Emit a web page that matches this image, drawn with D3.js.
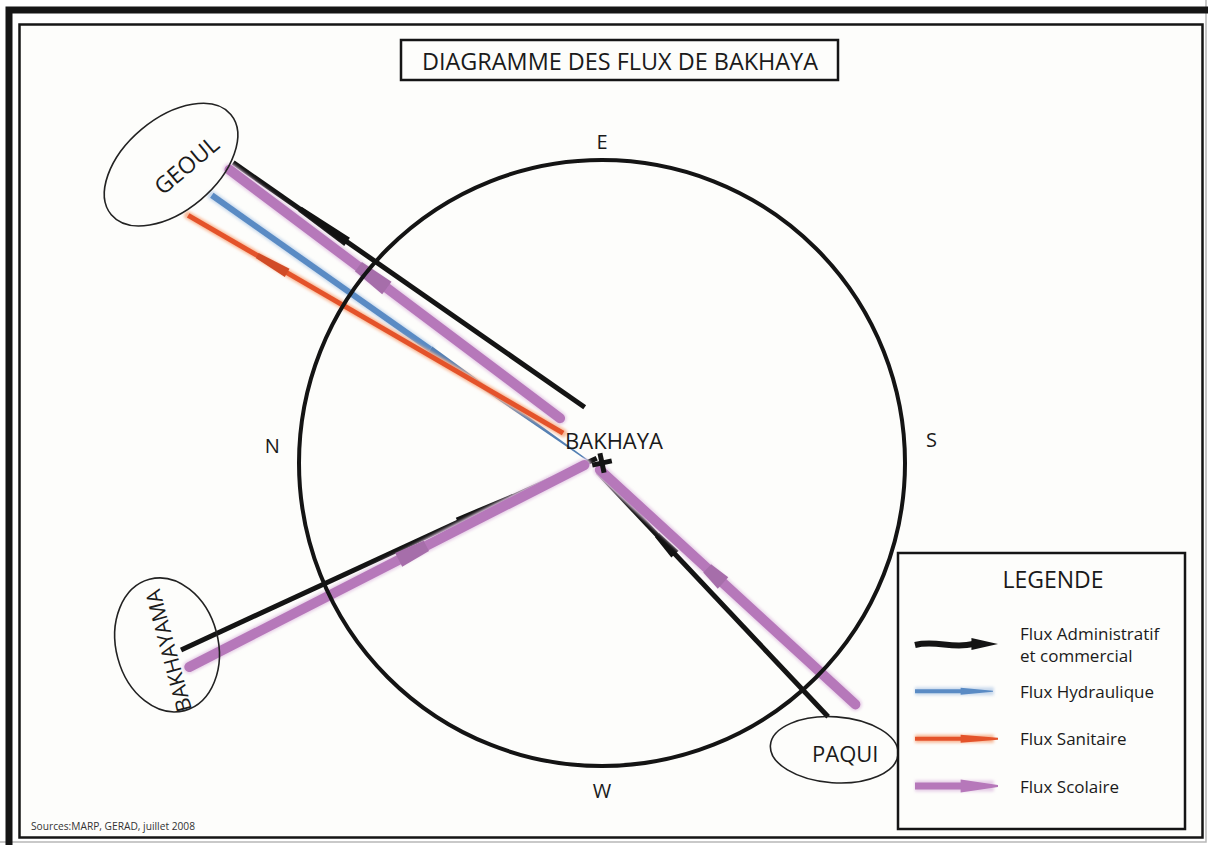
<!DOCTYPE html>
<html>
<head>
<meta charset="utf-8">
<script src="https://cdn.jsdelivr.net/npm/d3@7"></script>
<style>
  body { margin: 0; background: #fff; }
  svg { display: block; font-family: "Open Sans", "Noto Sans", sans-serif; }
</style>
</head>
<body>
<script>
// places around Bakhaya: bearing in degrees clockwise from E (top of the compass), distance in circle radii
const placeNames = ["GEOUL", "BAKHAYAMA", "PAQUI"];
const placeBearing = [-55.3, -112.7, 141];
const placeDistance = [1.73, 1.556, 1.218];

// compass letters round the circle
const compassNames = ["E", "S", "W", "N"];
const compassBearing = [0, 86, 180, 273];
const compassDistance = [1.06, 1.09, 1.08, 1.09];

// flow types and legend labels
const flowTypes = ["admin", "hydraulique", "sanitaire", "scolaire"];
const flowLabels = [["Flux Administratif", "et commercial"], ["Flux Hydraulique"], ["Flux Sanitaire"], ["Flux Scolaire"]];

// the flows drawn on the diagram
const flowPlace = ["GEOUL", "GEOUL", "GEOUL", "GEOUL", "BAKHAYAMA", "BAKHAYAMA", "PAQUI", "PAQUI"];
const flowType = ["admin", "scolaire", "hydraulique", "sanitaire", "admin", "scolaire", "admin", "scolaire"];
const flowDirection = ["out", "out", "in", "out", "in", "in", "in", "in"];

const titleText = "DIAGRAMME DES FLUX DE BAKHAYA";
const centerName = "BAKHAYA";
const legendTitle = "LEGENDE";
const sourceText = "Sources:MARP, GERAD, juillet 2008";

///////////////////////////

const svgWidth = 1208;
const svgHeight = 845;
const cx = 602, cy = 463, R = 303;

// layout of each flow: s = [along, across] from the place, e = [along, across] from the centre,
// a = arrow span as fractions of the line
const flowLanes = [
    {s: [50, -37], e: [-46, -36], a: [0.19, 0.324]},
    {s: [51, -29], e: [-60, -13], a: [0.39, 0.476]},
    {s: [51, 2], e: [-10, 6], a: [0.577, 1.0]},
    {s: [43, 32], e: [-49, -2.5], a: [0.184, 0.264]},
    {s: [11, 10], e: [-3, -6.5], a: [0.666, 0.80]},
    {s: [12, 29], e: [-17, -5], a: [0.53, 0.60]},
    {s: [29.5, 16], e: [-4.5, -9], a: [0.665, 0.743]},
    {s: [22, 45], e: [-4, -6], a: [0.518, 0.58]}
];

const placeShape = {
    GEOUL: {rx: 78, ry: 46, rot: -40, trot: -40, dx: 15, dy: 0, size: 23},
    BAKHAYAMA: {rx: 68, ry: 51, rot: -105, trot: -105, dx: 1, dy: 6, size: 21},
    PAQUI: {rx: 64, ry: 33, rot: 4, trot: 0, dx: 11, dy: 3, size: 22}
};

const typeStyle = {
    admin: {color: "#141414", width: 5, glow: null, head: 2.0},
    hydraulique: {color: "#5a8bc4", width: 6, glow: "#c9d9ec", head: 1.5},
    sanitaire: {color: "#e4532c", width: 5, glow: "#f8b795", head: 1.9},
    scolaire: {color: "#b678ba", width: 10, glow: "#e6cde7", head: 1.55}
};

const rScale = d3.scaleLinear().domain([0, 1]).range([0, R]);
const angle = d3.scaleLinear().domain([0, 360]).range([0, 2 * Math.PI]);
const polar = (b, d) => [cx + rScale(d) * Math.sin(angle(b)), cy - rScale(d) * Math.cos(angle(b))];

const svg = d3.select("body").append("svg")
    .attr("width", svgWidth)
    .attr("height", svgHeight);

const defs = svg.append("defs");
const addBlur = (id, sd) => defs.append("filter").attr("id", id)
    .attr("filterUnits", "userSpaceOnUse")
    .attr("x", 0).attr("y", 0).attr("width", svgWidth).attr("height", svgHeight)
    .append("feGaussianBlur").attr("stdDeviation", sd);
addBlur("soft", 1.8);
addBlur("edge", 0.5);

// frame
svg.append("rect").attr("width", svgWidth).attr("height", svgHeight).attr("fill", "#ffffff");
svg.append("path")
    .attr("d", `M1206,0V842H0`)
    .attr("fill", "none").attr("stroke", "#b8b8b8").attr("stroke-width", 1.5);
svg.append("path")
    .attr("d", `M9,${svgHeight}V10H${svgWidth}`)
    .attr("fill", "none").attr("stroke", "#151515").attr("stroke-width", 7);
svg.append("rect")
    .attr("x", 19.5).attr("y", 24.5).attr("width", 1183).attr("height", 813)
    .attr("fill", "#fdfdfb").attr("stroke", "#151515").attr("stroke-width", 2.5);

// title
svg.append("rect")
    .attr("x", 401).attr("y", 40).attr("width", 437).attr("height", 40)
    .attr("fill", "#fdfdfb").attr("stroke", "#151515").attr("stroke-width", 2.5);
svg.append("text")
    .attr("x", 620).attr("y", 60)
    .attr("text-anchor", "middle").attr("dominant-baseline", "central")
    .attr("font-size", 24).attr("fill", "#1a1a1a")
    .attr("textLength", 396).attr("lengthAdjust", "spacingAndGlyphs")
    .text(titleText);

// flows
const flows = flowPlace.map((p, i) => {
    const k = placeNames.indexOf(p);
    const P = polar(placeBearing[k], placeDistance[k]);
    const dx = cx - P[0], dy = cy - P[1], len = Math.hypot(dx, dy);
    const u = [dx / len, dy / len], v = [-u[1], u[0]];
    const L = flowLanes[i];
    const start = [P[0] + u[0] * L.s[0] + v[0] * L.s[1], P[1] + u[1] * L.s[0] + v[1] * L.s[1]];
    const end = [cx + u[0] * L.e[0] + v[0] * L.e[1], cy + u[1] * L.e[0] + v[1] * L.e[1]];
    return {place: p, type: flowType[i], dir: flowDirection[i], start, end, span: L.a};
});

const lerp = (a, b, t) => [a[0] + (b[0] - a[0]) * t, a[1] + (b[1] - a[1]) * t];

function wedge(p0, p1, w0, w1) {
    const dx = p1[0] - p0[0], dy = p1[1] - p0[1], len = Math.hypot(dx, dy);
    const v = [-dy / len, dx / len];
    return [
        [p0[0] + v[0] * w0 / 2, p0[1] + v[1] * w0 / 2],
        [p1[0] + v[0] * w1 / 2, p1[1] + v[1] * w1 / 2],
        [p1[0] - v[0] * w1 / 2, p1[1] - v[1] * w1 / 2],
        [p0[0] - v[0] * w0 / 2, p0[1] - v[1] * w0 / 2]
    ];
}

const gFlows = svg.append("g");

flows.forEach(f => {
    const st = typeStyle[f.type];
    const taper = f.span[1] >= 1;
    const lineEnd = taper ? lerp(f.start, f.end, f.span[0]) : f.end;
    const g = gFlows.append("g");

    if (st.glow) {
        g.append("line")
            .attr("x1", f.start[0]).attr("y1", f.start[1])
            .attr("x2", lineEnd[0]).attr("y2", lineEnd[1])
            .attr("stroke", st.glow).attr("stroke-width", st.width + 3)
            .attr("stroke-linecap", "round")
            .attr("filter", "url(#soft)");
    }
    g.append("line")
        .attr("x1", f.start[0]).attr("y1", f.start[1])
        .attr("x2", lineEnd[0]).attr("y2", lineEnd[1])
        .attr("stroke", st.color).attr("stroke-width", st.width)
        .attr("stroke-linecap", f.type === "scolaire" ? "round" : "butt")
        .attr("filter", st.glow ? "url(#edge)" : null);

    // arrow: wide blunt base, narrow tip pointing the way of the flow
    const a = lerp(f.start, f.end, f.span[0]);
    const b = lerp(f.start, f.end, f.span[1]);
    const tipW = st.width * 1.15, baseW = st.width * st.head;
    let pts;
    if (taper) {
        pts = wedge(a, b, st.width + 1, 1);
    } else if (f.dir === "in") {
        pts = wedge(a, b, baseW, tipW);
    } else {
        pts = wedge(a, b, tipW, baseW);
    }
    g.append("polygon")
        .attr("points", pts.map(p => p.join(",")).join(" "))
        .attr("fill", d3.color(st.color).darker(0.25))
        .attr("filter", st.glow ? "url(#edge)" : null);
});

// compass circle
svg.append("circle")
    .attr("cx", cx).attr("cy", cy).attr("r", rScale(1))
    .attr("fill", "none").attr("stroke", "#141414").attr("stroke-width", 4);

svg.append("g").selectAll("text")
    .data(compassNames)
    .join("text")
    .attr("x", (d, i) => polar(compassBearing[i], compassDistance[i])[0])
    .attr("y", (d, i) => polar(compassBearing[i], compassDistance[i])[1])
    .attr("text-anchor", "middle").attr("dominant-baseline", "central")
    .attr("font-size", 20).attr("fill", "#1a1a1a")
    .text(d => d);

// centre: Bakhaya
svg.append("text")
    .attr("x", 614).attr("y", 440)
    .attr("text-anchor", "middle").attr("dominant-baseline", "central")
    .attr("font-size", 22).attr("fill", "#1a1a1a")
    .text(centerName);
const cross = svg.append("g").attr("transform", `translate(${cx},${cy}) rotate(-12)`);
cross.append("line").attr("x1", -10).attr("x2", 10).attr("y1", 0).attr("y2", 0)
    .attr("stroke", "#141414").attr("stroke-width", 5);
cross.append("line").attr("x1", 0).attr("x2", 0).attr("y1", -10).attr("y2", 10)
    .attr("stroke", "#141414").attr("stroke-width", 5);

// places
placeNames.forEach((name, k) => {
    const P = polar(placeBearing[k], placeDistance[k]);
    const s = placeShape[name];
    svg.append("ellipse")
        .attr("transform", `translate(${P[0]},${P[1]}) rotate(${s.rot})`)
        .attr("rx", s.rx).attr("ry", s.ry)
        .attr("fill", "none")
        .attr("stroke", "#222").attr("stroke-width", 1.6);
    svg.append("text")
        .attr("transform", `translate(${P[0] + s.dx},${P[1] + s.dy}) rotate(${s.trot})`)
        .attr("text-anchor", "middle").attr("dominant-baseline", "central")
        .attr("font-size", s.size).attr("fill", "#1a1a1a")
        .text(name);
});

// legend
const legend = svg.append("g");
legend.append("rect")
    .attr("x", 898).attr("y", 553).attr("width", 287).attr("height", 276)
    .attr("fill", "#fdfdfb").attr("stroke", "#151515").attr("stroke-width", 2.5);
legend.append("text")
    .attr("x", 1053).attr("y", 579)
    .attr("text-anchor", "middle").attr("dominant-baseline", "central")
    .attr("font-size", 23).attr("fill", "#1a1a1a")
    .text(legendTitle);

const legendY = d3.scalePoint().domain(flowTypes).range([644, 786]);
const keyX = d3.scaleLinear().domain([0, 1]).range([915, 998]);

flowTypes.forEach((t, i) => {
    const y = legendY(t);
    const st = typeStyle[t];
    const g = legend.append("g");
    if (t === "admin") {
        g.append("path")
            .attr("d", `M${keyX(0)},${y + 1} C${keyX(0.25)},${y - 4} ${keyX(0.45)},${y + 5} ${keyX(0.7)},${y}`)
            .attr("fill", "none").attr("stroke", st.color).attr("stroke-width", 6);
        g.append("polygon")
            .attr("points", [[keyX(0.68), y - 6], [keyX(1), y], [keyX(0.68), y + 6]].map(p => p.join(",")).join(" "))
            .attr("fill", st.color);
    } else {
        const w = t === "scolaire" ? 7 : 4;
        if (st.glow) {
            g.append("line")
                .attr("x1", keyX(0)).attr("x2", keyX(0.95)).attr("y1", y).attr("y2", y)
                .attr("stroke", st.glow).attr("stroke-width", w + 4).attr("filter", "url(#soft)");
        }
        g.append("line")
            .attr("x1", keyX(0)).attr("x2", keyX(0.56)).attr("y1", y).attr("y2", y)
            .attr("stroke", st.color).attr("stroke-width", w).attr("filter", "url(#edge)");
        const baseW = t === "scolaire" ? 13 : (t === "sanitaire" ? 8 : 7);
        const tipW = t === "hydraulique" ? 1 : 2;
        const tipX = t === "hydraulique" ? keyX(0.94) : keyX(1);
        g.append("polygon")
            .attr("points", wedge([keyX(0.55), y], [tipX, y], baseW, tipW).map(p => p.join(",")).join(" "))
            .attr("fill", st.color).attr("filter", "url(#edge)");
    }
    flowLabels[i].forEach((line, j) => {
        g.append("text")
            .attr("x", 1020)
            .attr("y", y + (j - (flowLabels[i].length - 1) / 2) * 22)
            .attr("dominant-baseline", "central")
            .attr("font-size", 17).attr("fill", "#1a1a1a")
            .text(line);
    });
});

// source
svg.append("text")
    .attr("x", 31).attr("y", 830)
    .attr("font-size", 10.5).attr("fill", "#333")
    .attr("textLength", 164).attr("lengthAdjust", "spacingAndGlyphs")
    .text(sourceText);
</script>
</body>
</html>
